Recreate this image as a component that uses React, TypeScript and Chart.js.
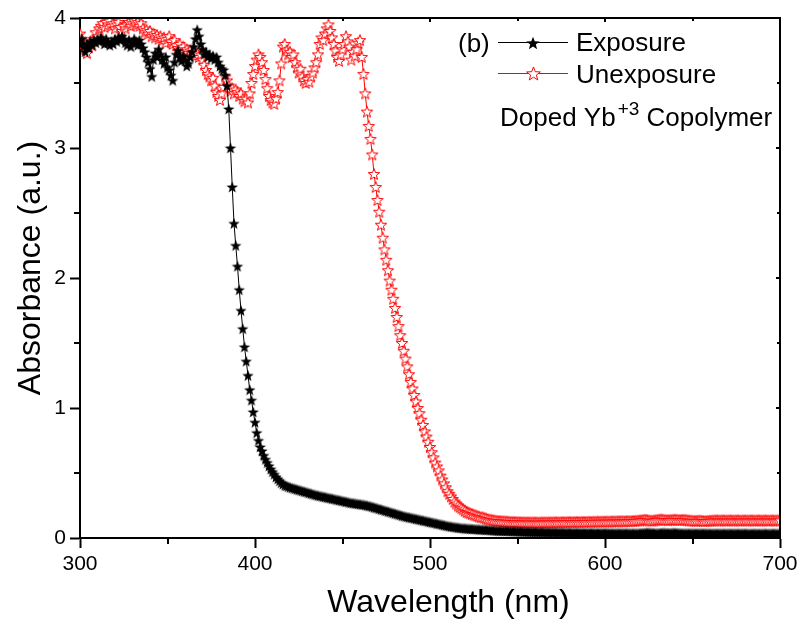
import React, { useEffect, useRef } from "react";
import { Chart, registerables } from "chart.js";
Chart.register(...registerables);

// Wavelength grid (nm)
const wavelengths = [
  300, 301, 302, 303, 304, 305, 306, 307, 308, 309, 310, 311, 312, 313, 314, 315, 316, 317, 318, 319,
  320, 321, 322, 323, 324, 325, 326, 327, 328, 329, 330, 331, 332, 333, 334, 335, 336, 337, 338, 339,
  340, 341, 342, 343, 344, 345, 346, 347, 348, 349, 350, 351, 352, 353, 354, 355, 356, 357, 358, 359,
  360, 361, 362, 363, 364, 365, 366, 367, 368, 369, 370, 371, 372, 373, 374, 375, 376, 377, 378, 379,
  380, 381, 382, 383, 384, 385, 386, 387, 388, 389, 390, 391, 392, 393, 394, 395, 396, 397, 398, 399,
  400, 401, 402, 403, 404, 405, 406, 407, 408, 409, 410, 411, 412, 413, 414, 415, 416, 417, 418, 419,
  420, 421, 422, 423, 424, 425, 426, 427, 428, 429, 430, 431, 432, 433, 434, 435, 436, 437, 438, 439,
  440, 441, 442, 443, 444, 445, 446, 447, 448, 449, 450, 451, 452, 453, 454, 455, 456, 457, 458, 459,
  460, 461, 462, 463, 464, 465, 466, 467, 468, 469, 470, 471, 472, 473, 474, 475, 476, 477, 478, 479,
  480, 481, 482, 483, 484, 485, 486, 487, 488, 489, 490, 491, 492, 493, 494, 495, 496, 497, 498, 499,
  500, 501, 502, 503, 504, 505, 506, 507, 508, 509, 510, 511, 512, 513, 514, 515, 516, 517, 518, 519,
  520, 521, 522, 523, 524, 525, 526, 527, 528, 529, 530, 531, 532, 533, 534, 535, 536, 537, 538, 539,
  540, 541, 542, 543, 544, 545, 546, 547, 548, 549, 550, 551, 552, 553, 554, 555, 556, 557, 558, 559,
  560, 561, 562, 563, 564, 565, 566, 567, 568, 569, 570, 571, 572, 573, 574, 575, 576, 577, 578, 579,
  580, 581, 582, 583, 584, 585, 586, 587, 588, 589, 590, 591, 592, 593, 594, 595, 596, 597, 598, 599,
  600, 601, 602, 603, 604, 605, 606, 607, 608, 609, 610, 611, 612, 613, 614, 615, 616, 617, 618, 619,
  620, 621, 622, 623, 624, 625, 626, 627, 628, 629, 630, 631, 632, 633, 634, 635, 636, 637, 638, 639,
  640, 641, 642, 643, 644, 645, 646, 647, 648, 649, 650, 651, 652, 653, 654, 655, 656, 657, 658, 659,
  660, 661, 662, 663, 664, 665, 666, 667, 668, 669, 670, 671, 672, 673, 674, 675, 676, 677, 678, 679,
  680, 681, 682, 683, 684, 685, 686, 687, 688, 689, 690, 691, 692, 693, 694, 695, 696, 697, 698, 699,
  700,
];

// Exposure (black filled stars)
const exposure = [
  3.80, 3.84, 3.78, 3.74, 3.80, 3.77, 3.82, 3.79, 3.83, 3.81,
  3.84, 3.82, 3.85, 3.83, 3.80, 3.84, 3.81, 3.79, 3.82, 3.80,
  3.84, 3.82, 3.85, 3.83, 3.86, 3.84, 3.81, 3.79, 3.83, 3.78,
  3.81, 3.84, 3.82, 3.79, 3.83, 3.80, 3.77, 3.74, 3.70, 3.66,
  3.61, 3.55, 3.68, 3.73, 3.70, 3.76, 3.72, 3.68, 3.65, 3.70,
  3.62, 3.60, 3.56, 3.52, 3.66, 3.72, 3.75, 3.70, 3.67, 3.71,
  3.68, 3.63, 3.65, 3.70, 3.74, 3.78, 3.84, 3.91, 3.86, 3.80,
  3.76, 3.72, 3.74, 3.70, 3.72, 3.69, 3.71, 3.68, 3.70, 3.66,
  3.63, 3.61, 3.60, 3.56, 3.48, 3.30, 3.00, 2.70, 2.42, 2.25,
  2.09, 1.91, 1.75, 1.61, 1.47, 1.36, 1.25, 1.14, 1.06, 0.97,
  0.89, 0.81, 0.75, 0.70, 0.67, 0.635, 0.605, 0.58, 0.555, 0.53,
  0.51, 0.49, 0.47, 0.455, 0.44, 0.425, 0.415, 0.405, 0.40, 0.395,
  0.39, 0.386, 0.382, 0.378, 0.374, 0.37, 0.366, 0.362, 0.358, 0.354,
  0.35, 0.346, 0.342, 0.338, 0.334, 0.33, 0.327, 0.324, 0.321, 0.318,
  0.315, 0.312, 0.309, 0.306, 0.303, 0.30, 0.297, 0.294, 0.291, 0.288,
  0.285, 0.282, 0.279, 0.276, 0.273, 0.27, 0.268, 0.266, 0.264, 0.262,
  0.26, 0.258, 0.256, 0.253, 0.25, 0.247, 0.244, 0.24, 0.236, 0.232,
  0.228, 0.224, 0.22, 0.216, 0.212, 0.208, 0.204, 0.20, 0.196, 0.192,
  0.188, 0.184, 0.18, 0.176, 0.172, 0.168, 0.165, 0.162, 0.159, 0.156,
  0.153, 0.15, 0.147, 0.144, 0.141, 0.138, 0.135, 0.132, 0.129, 0.126,
  0.123, 0.12, 0.117, 0.114, 0.111, 0.108, 0.105, 0.102, 0.099, 0.096,
  0.093, 0.09, 0.088, 0.086, 0.084, 0.082, 0.08, 0.078, 0.076, 0.075,
  0.074, 0.073, 0.072, 0.071, 0.07, 0.069, 0.068, 0.067, 0.066, 0.065,
  0.065, 0.064, 0.063, 0.062, 0.061, 0.06, 0.059, 0.058, 0.057, 0.056,
  0.056, 0.055, 0.055, 0.054, 0.054, 0.053, 0.053, 0.052, 0.052, 0.051,
  0.051, 0.05, 0.05, 0.049, 0.049, 0.048, 0.048, 0.047, 0.047, 0.046,
  0.046, 0.046, 0.045, 0.045, 0.045, 0.044, 0.044, 0.044, 0.043, 0.043,
  0.043, 0.043, 0.042, 0.042, 0.042, 0.042, 0.041, 0.041, 0.041, 0.041,
  0.041, 0.04, 0.04, 0.04, 0.04, 0.04, 0.04, 0.039, 0.039, 0.039,
  0.039, 0.039, 0.039, 0.039, 0.038, 0.038, 0.038, 0.038, 0.038, 0.038,
  0.038, 0.038, 0.038, 0.037, 0.037, 0.037, 0.037, 0.037, 0.037, 0.037,
  0.037, 0.037, 0.037, 0.037, 0.036, 0.036, 0.036, 0.036, 0.036, 0.036,
  0.037, 0.038, 0.039, 0.04, 0.041, 0.041, 0.04, 0.039, 0.038, 0.037,
  0.037, 0.038, 0.039, 0.04, 0.04, 0.039, 0.038, 0.038, 0.039, 0.04,
  0.04, 0.039, 0.038, 0.037, 0.036, 0.036, 0.036, 0.036, 0.036, 0.036,
  0.036, 0.036, 0.036, 0.036, 0.036, 0.036, 0.036, 0.036, 0.036, 0.035,
  0.035, 0.035, 0.035, 0.035, 0.035, 0.035, 0.035, 0.035, 0.035, 0.035,
  0.035, 0.035, 0.035, 0.035, 0.035, 0.035, 0.035, 0.035, 0.035, 0.035,
  0.035, 0.035, 0.034, 0.034, 0.034, 0.035, 0.035, 0.034, 0.034, 0.034,
  0.034, 0.035, 0.035, 0.034, 0.034, 0.034, 0.035, 0.035, 0.034, 0.034,
  0.034,
];

// Unexposure (red open stars)
const unexposure = [
  3.88, 3.84, 3.80, 3.76, 3.73, 3.78, 3.82, 3.79, 3.84, 3.89,
  3.86, 3.92, 3.94, 3.96, 3.93, 3.97, 3.95, 3.98, 3.94, 3.96,
  3.92, 3.95, 3.97, 3.93, 3.90, 3.94, 3.92, 3.95, 3.97, 3.94,
  3.96, 3.98, 3.95, 3.97, 3.94, 3.96, 3.92, 3.89, 3.91, 3.88,
  3.90, 3.86, 3.88, 3.85, 3.87, 3.84, 3.86, 3.83, 3.85, 3.81,
  3.84, 3.86, 3.82, 3.80, 3.83, 3.79, 3.77, 3.80, 3.76, 3.78,
  3.74, 3.76, 3.73, 3.75, 3.72, 3.74, 3.71, 3.73, 3.70, 3.72,
  3.68, 3.64, 3.60, 3.57, 3.55, 3.52, 3.54, 3.48, 3.43, 3.40,
  3.37, 3.42, 3.47, 3.55, 3.52, 3.48, 3.44, 3.46, 3.42, 3.45,
  3.43, 3.40, 3.42, 3.38, 3.36, 3.38, 3.35, 3.42, 3.50, 3.57,
  3.63, 3.68, 3.72, 3.70, 3.66, 3.60, 3.53, 3.46, 3.40, 3.37,
  3.35, 3.34, 3.38, 3.43, 3.52, 3.65, 3.78, 3.80, 3.75, 3.72,
  3.74, 3.70, 3.72, 3.66, 3.62, 3.58, 3.61, 3.55, 3.52, 3.50,
  3.53, 3.51, 3.55, 3.58, 3.62, 3.66, 3.72, 3.80, 3.85, 3.83,
  3.88, 3.92, 3.95, 3.90, 3.85, 3.80, 3.75, 3.70, 3.67, 3.72,
  3.76, 3.80, 3.86, 3.82, 3.78, 3.68, 3.74, 3.71, 3.76, 3.81,
  3.83, 3.70, 3.57, 3.42, 3.28, 3.17, 3.07, 2.95, 2.80, 2.70,
  2.60, 2.51, 2.41, 2.31, 2.22, 2.14, 2.06, 1.98, 1.91, 1.84,
  1.77, 1.70, 1.63, 1.56, 1.50, 1.44, 1.38, 1.32, 1.26, 1.20,
  1.15, 1.10, 1.05, 1.00, 0.96, 0.91, 0.87, 0.82, 0.78, 0.74,
  0.70, 0.66, 0.62, 0.58, 0.55, 0.52, 0.48, 0.45, 0.42, 0.39,
  0.36, 0.34, 0.32, 0.30, 0.28, 0.265, 0.25, 0.24, 0.23, 0.22,
  0.21, 0.20, 0.195, 0.19, 0.185, 0.18, 0.175, 0.17, 0.165, 0.16,
  0.16, 0.155, 0.15, 0.146, 0.142, 0.14, 0.137, 0.135, 0.133, 0.131,
  0.13, 0.129, 0.128, 0.127, 0.126, 0.125, 0.124, 0.124, 0.123, 0.123,
  0.122, 0.122, 0.121, 0.121, 0.121, 0.12, 0.12, 0.12, 0.12, 0.12,
  0.12, 0.12, 0.119, 0.119, 0.12, 0.12, 0.121, 0.12, 0.12, 0.121,
  0.121, 0.121, 0.122, 0.121, 0.121, 0.122, 0.122, 0.122, 0.122, 0.123,
  0.123, 0.122, 0.123, 0.123, 0.124, 0.123, 0.123, 0.124, 0.124, 0.124,
  0.124, 0.125, 0.124, 0.125, 0.125, 0.125, 0.126, 0.125, 0.126, 0.126,
  0.126, 0.127, 0.126, 0.127, 0.127, 0.128, 0.127, 0.128, 0.128, 0.129,
  0.129, 0.128, 0.129, 0.13, 0.129, 0.13, 0.131, 0.132, 0.133, 0.134,
  0.135, 0.137, 0.139, 0.14, 0.138, 0.136, 0.134, 0.133, 0.135, 0.137,
  0.139, 0.141, 0.142, 0.141, 0.139, 0.138, 0.137, 0.138, 0.139, 0.14,
  0.141, 0.14, 0.139, 0.138, 0.139, 0.14, 0.139, 0.137, 0.135, 0.134,
  0.133, 0.132, 0.132, 0.133, 0.134, 0.133, 0.131, 0.13, 0.131, 0.132,
  0.133, 0.134, 0.135, 0.136, 0.136, 0.135, 0.135, 0.136, 0.136, 0.135,
  0.135, 0.136, 0.136, 0.135, 0.135, 0.136, 0.136, 0.135, 0.135, 0.136,
  0.136, 0.135, 0.135, 0.136, 0.136, 0.135, 0.135, 0.136, 0.136, 0.135,
  0.135, 0.136, 0.136, 0.135, 0.135, 0.136, 0.136, 0.135, 0.135, 0.136,
  0.136,
];

const seriesNames = ["Exposure", "Unexposure"];
const xMajorTicks = [300, 400, 500, 600, 700];
const xMinorTicks = [350, 450, 550, 650];
const yMajorTicks = [0, 1, 2, 3, 4];
const yMinorTicks = [0.5, 1.5, 2.5, 3.5];
const panelLabel = "(b)";
const noteMain = "Doped Yb";
const noteSup = "+3";
const noteTail = " Copolymer";
const xTitle = "Wavelength (nm)";
const yTitle = "Absorbance (a.u.)";

const FONT = "'Liberation Sans', Arial, Helvetica, sans-serif";

function makeStar(R: number, fill: string, stroke: string | null, lw: number) {
  const size = Math.ceil(R * 2 + 4);
  const c = document.createElement("canvas");
  c.width = size;
  c.height = size;
  const ctx = c.getContext("2d")!;
  const cx = size / 2;
  const cy = size / 2 + R * 0.09;
  const r = R * 0.42;
  ctx.beginPath();
  for (let i = 0; i < 10; i++) {
    const ang = -Math.PI / 2 + (i * Math.PI) / 5;
    const rr = i % 2 === 0 ? R : r;
    const px = cx + rr * Math.cos(ang);
    const py = cy + rr * Math.sin(ang);
    if (i === 0) ctx.moveTo(px, py);
    else ctx.lineTo(px, py);
  }
  ctx.closePath();
  ctx.fillStyle = fill;
  ctx.fill();
  if (stroke) {
    ctx.strokeStyle = stroke;
    ctx.lineWidth = lw;
    ctx.stroke();
  }
  return c;
}

function zeroPad(s: any) {
  s.paddingTop = 0;
  s.paddingBottom = 0;
  s.paddingLeft = 0;
  s.paddingRight = 0;
}

export default function App() {
  const ref = useRef<HTMLCanvasElement | null>(null);

  useEffect(() => {
    if (!ref.current) return;
    const blackStar = makeStar(6, "#000000", null, 1);
    const redStar = makeStar(6, "#ffffff", "#ff0000", 1);
    const blackStarL = makeStar(7, "#000000", null, 1);
    const redStarL = makeStar(7.2, "#ffffff", "#ff0000", 1);

    const framePlugin = {
      id: "frameAndDecor",
      afterDraw(chart: any) {
        const ctx = chart.ctx as CanvasRenderingContext2D;
        const xs = chart.scales.x;
        const ys = chart.scales.y;
        const area = chart.chartArea;
        const left = Math.round(area.left);
        const right = Math.round(area.right);
        const top = Math.round(area.top);
        const bottom = Math.round(area.bottom);
        ctx.save();
        ctx.globalAlpha = 1;
        ctx.fillStyle = "#000000";
        // top and right frame lines (2px)
        ctx.fillRect(left - 1, top - 1, right - left + 2, 2);
        ctx.fillRect(right - 1, top - 1, 2, bottom - top + 2);
        // minor ticks outward (bottom / left) and all ticks inward (top / right)
        xMajorTicks.forEach((v) => {
          const px = Math.round(xs.getPixelForValue(v));
          ctx.fillRect(px - 1, top, 2, 4);
        });
        xMinorTicks.forEach((v) => {
          const px = Math.round(xs.getPixelForValue(v));
          ctx.fillRect(px - 1, bottom, 2, 6);
          ctx.fillRect(px - 1, top, 2, 3);
        });
        yMajorTicks.forEach((v) => {
          const py = Math.round(ys.getPixelForValue(v));
          ctx.fillRect(right - 4, py - 1, 4, 2);
        });
        yMinorTicks.forEach((v) => {
          const py = Math.round(ys.getPixelForValue(v));
          ctx.fillRect(left - 6, py - 1, 6, 2);
          ctx.fillRect(right - 3, py - 1, 3, 2);
        });

        // axis titles
        ctx.font = `32px ${FONT}`;
        ctx.textAlign = "center";
        ctx.textBaseline = "alphabetic";
        ctx.fillText(xTitle, 448.5, 612);
        ctx.save();
        ctx.translate(40, 268);
        ctx.rotate(-Math.PI / 2);
        ctx.fillText(yTitle, 0, 0);
        ctx.restore();

        // legend
        ctx.textAlign = "left";
        ctx.font = `26px ${FONT}`;
        ctx.fillText(panelLabel, 458, 52);
        ctx.fillRect(498, 42, 70, 1);
        ctx.drawImage(blackStarL, Math.round(533 - blackStarL.width / 2), Math.round(42.5 - blackStarL.height / 2));
        ctx.fillText(seriesNames[0], 576, 51);
        ctx.fillStyle = "#ff0000";
        ctx.fillRect(498, 73, 70, 1);
        ctx.drawImage(redStarL, Math.round(533 - redStarL.width / 2), Math.round(73.5 - redStarL.height / 2));
        ctx.fillStyle = "#000000";
        ctx.fillText(seriesNames[1], 576, 83);
        ctx.fillText(noteMain, 500, 126);
        const w1 = ctx.measureText(noteMain).width;
        ctx.font = `19px ${FONT}`;
        ctx.fillText(noteSup, 500 + w1 + 2, 115);
        const w2 = ctx.measureText(noteSup).width;
        ctx.font = `26px ${FONT}`;
        ctx.fillText(noteTail, 500 + w1 + 2 + w2, 126);
        ctx.restore();
      },
    };

    const chart = new Chart(ref.current, {
      type: "line",
      data: {
        datasets: [
          {
            label: seriesNames[0],
            data: wavelengths.map((w, i) => ({ x: w, y: exposure[i] })),
            borderColor: "#000000",
            borderWidth: 1,
            pointStyle: blackStar as any,
            pointRadius: 5,
            tension: 0,
            order: 0,
          },
          {
            label: seriesNames[1],
            data: wavelengths.map((w, i) => ({ x: w, y: unexposure[i] })),
            borderColor: "#ff0000",
            borderWidth: 1,
            pointStyle: redStar as any,
            pointRadius: 5,
            tension: 0,
            order: 1,
          },
        ],
      },
      options: {
        responsive: false,
        animation: false,
        devicePixelRatio: 1,
        layout: { padding: { left: 0, right: 21, top: 18, bottom: 0 } },
        plugins: {
          legend: { display: false },
          tooltip: { enabled: false },
          title: { display: false },
        },
        scales: {
          x: {
            type: "linear",
            min: 300,
            max: 700,
            grid: {
              display: true,
              drawOnChartArea: false,
              drawTicks: true,
              tickLength: 10,
              tickWidth: 2,
              tickColor: "#000000",
              color: "#000000",
            },
            border: { display: true, color: "#000000", width: 2 },
            ticks: {
              padding: 4,
              color: "#000",
              font: { family: FONT, size: 21 },
              maxRotation: 0,
              autoSkip: false,
            },
            afterBuildTicks: (s: any) => {
              s.ticks = xMajorTicks.map((v) => ({ value: v }));
            },
            afterFit: (s: any) => {
              s.height = 86;
              zeroPad(s);
            },
          },
          y: {
            type: "linear",
            min: 0,
            max: 4,
            grid: {
              display: true,
              drawOnChartArea: false,
              drawTicks: true,
              tickLength: 10,
              tickWidth: 2,
              tickColor: "#000000",
              color: "#000000",
            },
            border: { display: true, color: "#000000", width: 2 },
            ticks: {
              padding: 4,
              color: "#000",
              font: { family: FONT, size: 21 },
              autoSkip: false,
            },
            afterBuildTicks: (s: any) => {
              s.ticks = yMajorTicks.map((v) => ({ value: v }));
            },
            afterFit: (s: any) => {
              s.width = 80;
              zeroPad(s);
            },
          },
        },
      },
      plugins: [framePlugin],
    });
    return () => chart.destroy();
  }, []);

  return (
    <div style={{ position: "absolute", left: 0, top: 0, width: 801, height: 624 }}>
      <canvas ref={ref} width={801} height={624} style={{ display: "block" }} />
    </div>
  );
}
